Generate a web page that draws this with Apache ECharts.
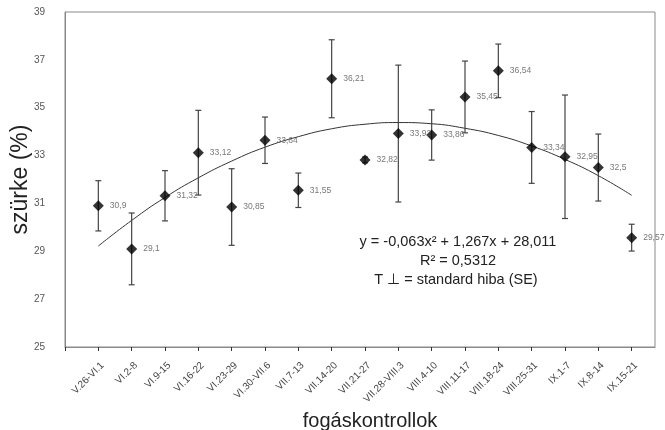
<!DOCTYPE html>
<html>
<head>
<meta charset="utf-8">
<script src="https://cdn.jsdelivr.net/npm/echarts@6/dist/echarts.min.js"></script>
<style>
  html, body { margin: 0; padding: 0; background: #fff; }
  #chart { width: 665px; height: 430px; }
</style>
</head>
<body>
<div id="chart"></div>
<script>
  // fogáskontrollok (weekly catch checks)
  var categories = ['V.26-VI.1', 'VI.2-8', 'VI.9-15', 'VI.16-22', 'VI.23-29', 'VI.30-VII.6',
    'VII.7-13', 'VII.14-20', 'VII.21-27', 'VII.28-VIII.3', 'VIII.4-10', 'VIII.11-17',
    'VIII.18-24', 'VIII.25-31', 'IX.1-7', 'IX.8-14', 'IX.15-21']
  var values = [30.9, 29.1, 31.32, 33.12, 30.85, 33.64, 31.55, 36.21, 32.82, 33.92,
    33.86, 35.45, 36.54, 33.34, 32.95, 32.5, 29.57]
  // standard error (SE)
  var errors = [1.05, 1.5, 1.05, 1.77, 1.6, 0.97, 0.72, 1.63, 0.12, 2.86,
    1.05, 1.5, 1.12, 1.5, 2.58, 1.4, 0.56]
  // polynomial trend line, values at each check
  var trend = [29.22, 30.29, 31.25, 32.07, 32.77, 33.35, 33.79, 34.12, 34.31, 34.38,
    34.33, 34.14, 33.84, 33.40, 32.84, 32.16, 31.34]
  var yTicks = [25, 27, 29, 31, 33, 35, 37, 39]

  var chart = echarts.init(document.getElementById('chart'))

  var points = values.map(function (v, i) { return [i + 1, v] })
  var bars = values.map(function (v, i) { return [i + 1, v - errors[i], v + errors[i]] })
  var trendLine = trend.map(function (v, i) { return [i + 1, v] })

  chart.setOption({
    animation: false,
    textStyle: { fontFamily: 'Liberation Sans, Arial, sans-serif' },
    grid: {
      left: 65,
      right: 10,
      top: 12,
      bottom: 83,
      outerBoundsMode: 'none',
      containLabel: false,
      show: true,
      borderColor: '#8a8a8a',
      borderWidth: 1
    },
    xAxis: {
      type: 'value',
      min: 0,
      max: 17.7,
      interval: 1,
      splitLine: { show: false },
      axisLine: { lineStyle: { color: '#8a8a8a' } },
      axisTick: { show: true, length: 4, lineStyle: { color: '#333' } },
      axisLabel: {
        rotate: 45,
        fontSize: 10,
        color: '#444',
        margin: 21,
        padding: [16, -6, 0, 0],
        showMinLabel: true,
        showMaxLabel: false,
        formatter: function (v) {
          return categories[v - 1] || ''
        }
      },
      name: 'fogáskontrollok',
      nameLocation: 'middle',
      nameGap: 64,
      nameMoveOverlap: false,
      nameTextStyle: { fontSize: 20, color: '#222', fontFamily: 'Liberation Sans', padding: [0, 0, 0, 20] }
    },
    yAxis: {
      type: 'value',
      min: yTicks[0],
      max: yTicks[yTicks.length - 1],
      interval: 2,
      splitLine: { show: false },
      axisLine: { show: true, lineStyle: { color: '#8a8a8a' } },
      axisTick: { show: false },
      axisLabel: { fontSize: 10, color: '#555', margin: 20 },
      name: 'szürke (%)',
      nameLocation: 'middle',
      nameGap: 33,
      nameMoveOverlap: false,
      nameRotate: 90,
      nameTextStyle: { fontSize: 23, color: '#222', fontFamily: 'Liberation Sans' }
    },
    series: [
      {
        type: 'line',
        data: trendLine,
        smooth: true,
        showSymbol: false,
        silent: true,
        lineStyle: { color: '#333', width: 1 },
        z: 1
      },
      {
        type: 'custom',
        data: bars,
        z: 2,
        renderItem: function (params, api) {
          var x = api.value(0)
          var lo = api.coord([x, api.value(1)])
          var hi = api.coord([x, api.value(2)])
          var cap = 3
          var style = { stroke: '#444', lineWidth: 1.2 }
          return {
            type: 'group',
            children: [
              { type: 'line', shape: { x1: hi[0], y1: hi[1], x2: lo[0], y2: lo[1] }, style: style },
              { type: 'line', shape: { x1: hi[0] - cap, y1: hi[1], x2: hi[0] + cap, y2: hi[1] }, style: style },
              { type: 'line', shape: { x1: lo[0] - cap, y1: lo[1], x2: lo[0] + cap, y2: lo[1] }, style: style }
            ]
          }
        }
      },
      {
        type: 'scatter',
        data: points,
        symbol: 'diamond',
        symbolSize: 11,
        itemStyle: { color: '#000' },
        z: 3,
        label: {
          show: true,
          position: 'right',
          distance: 6,
          fontSize: 8.5,
          color: '#555',
          formatter: function (p) {
            return String(p.value[1]).replace('.', ',')
          }
        }
      }
    ],
    graphic: [
      {
        type: 'text',
        x: 458,
        y: 242,
        style: { text: 'y = -0,063x² + 1,267x + 28,011', fontSize: 14.5, fill: '#222', align: 'center', verticalAlign: 'middle', fontFamily: 'Liberation Sans' }
      },
      {
        type: 'text',
        x: 458,
        y: 261,
        style: { text: 'R² = 0,5312', fontSize: 14.5, fill: '#222', align: 'center', verticalAlign: 'middle', fontFamily: 'Liberation Sans' }
      },
      {
        type: 'text',
        x: 456,
        y: 280,
        style: { text: 'T ⊥ = standard hiba (SE)', fontSize: 14.5, fill: '#222', align: 'center', verticalAlign: 'middle', fontFamily: 'Liberation Sans' }
      }
    ]
  })
</script>
</body>
</html>
